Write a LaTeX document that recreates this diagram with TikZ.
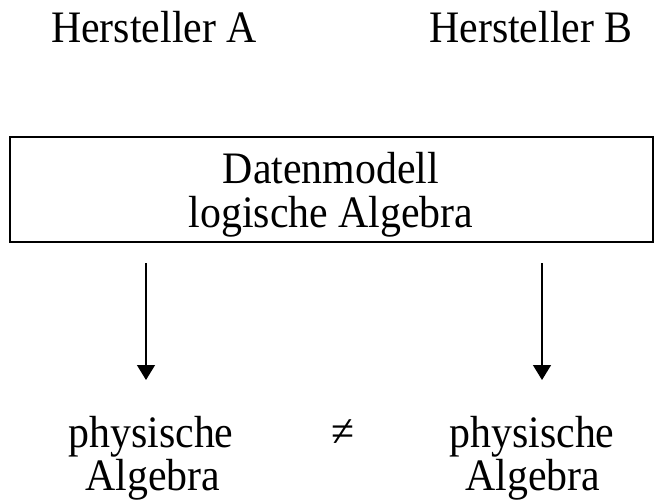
\documentclass[tikz,border=0pt]{standalone}
\usepackage{fontspec}
\setmainfont{Liberation Serif}[FakeStretch=0.93]
\usetikzlibrary{arrows.meta}
\tikzset{
  lbl/.style={inner sep=0pt, anchor=base, font=\fontsize{45}{50}\selectfont},
  frame/.style={draw, line width=1.5pt, inner sep=0pt},
  arr/.style={line width=1.3pt, -{Triangle[length=15pt, width=18pt]}}
}
\begin{document}
\begin{tikzpicture}[x=1pt, y=-1pt]
\useasboundingbox (0,0) rectangle (663,503);
\node[lbl] (ha) at (154,43) {Hersteller A};
\node[lbl] (hb) at (531,43) {Hersteller B};
\node[frame, minimum width=643pt, minimum height=105pt] (box) at (331.5,189.5) {};
\node[lbl] (t1) at (331,183) {Datenmodell};
\node[lbl] (t2) at (331,227) {logische Algebra};
\coordinate (s1) at (146,263);
\coordinate (e1) at (146,380);
\coordinate (s2) at (542,263);
\coordinate (e2) at (542,380);
\draw[arr] (s1) -- (e1);
\draw[arr] (s2) -- (e2);
\node[lbl] (p1) at (151,447) {physische};
\node[lbl] (q1) at (153,490) {Algebra};
\node[lbl] (p2) at (532,447) {physische};
\node[lbl] (q2) at (533,490) {Algebra};
\node[lbl] (ne) at (343,446) {≠};
\end{tikzpicture}
\end{document}
